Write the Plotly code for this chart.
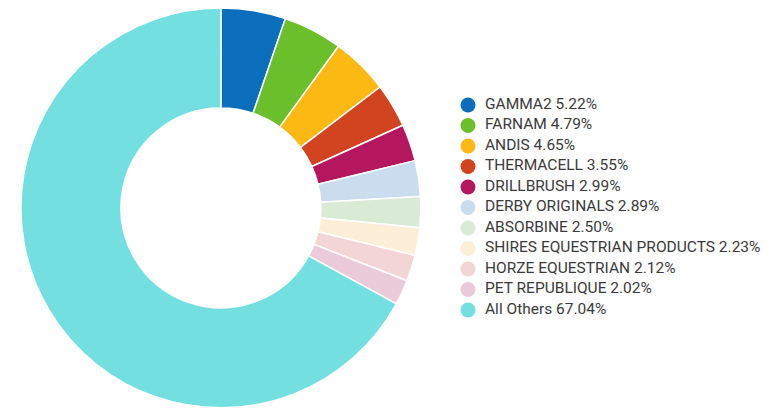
import plotly.graph_objects as go

labels = ["GAMMA2", "FARNAM", "ANDIS", "THERMACELL", "DRILLBRUSH", "DERBY ORIGINALS",
          "ABSORBINE", "SHIRES EQUESTRIAN PRODUCTS", "HORZE EQUESTRIAN", "PET REPUBLIQUE", "All Others"]
shares = [5.22, 4.79, 4.65, 3.55, 2.99, 2.89, 2.50, 2.23, 2.12, 2.02, 67.04]
colors = ["#0a6ebd", "#6abf2a", "#fdb913", "#d2431f", "#b5175e", "#c9ddee",
          "#d9ebd4", "#fdeed8", "#f4d5d6", "#ebcbda", "#74dfe0"]

W, H = 771, 408
fig = go.Figure()
fig.add_trace(go.Pie(
    labels=labels, values=shares, hole=0.5, sort=False, direction="clockwise",
    rotation=0, textinfo="none", hoverinfo="label+percent",
    marker=dict(colors=colors, line=dict(color="white", width=1.5)),
    domain=dict(x=[0.0166, 0.5356], y=[0.02, 1.0]), showlegend=False,
))

# custom legend (circle swatch + label), laid out in pixel space
n = len(labels)
leg_y = [97 + i * 20.5 for i in range(n)]
leg_text = [f"{lab} {val:.2f}%" for lab, val in zip(labels, shares)]
fig.add_trace(go.Scatter(
    x=[460] * n, y=leg_y, mode="markers", hoverinfo="skip", showlegend=False,
    marker=dict(symbol="circle", size=15, color=colors), cliponaxis=False,
))
fig.add_trace(go.Scatter(
    x=[477] * n, y=leg_y, mode="text", text=leg_text, textposition="middle right",
    hoverinfo="skip", showlegend=False, cliponaxis=False,
    textfont=dict(family="Roboto, Arial, sans-serif", size=15.5, color="#3a3a3a"),
))

fig.update_layout(
    width=W, height=H, margin=dict(l=0, r=0, t=0, b=0),
    paper_bgcolor="white", plot_bgcolor="rgba(0,0,0,0)",
    xaxis=dict(visible=False, range=[0, W], domain=[0, 1], fixedrange=True),
    yaxis=dict(visible=False, range=[H, 0], domain=[0, 1], fixedrange=True),
    showlegend=False,
)
fig.write_html("out.html")
